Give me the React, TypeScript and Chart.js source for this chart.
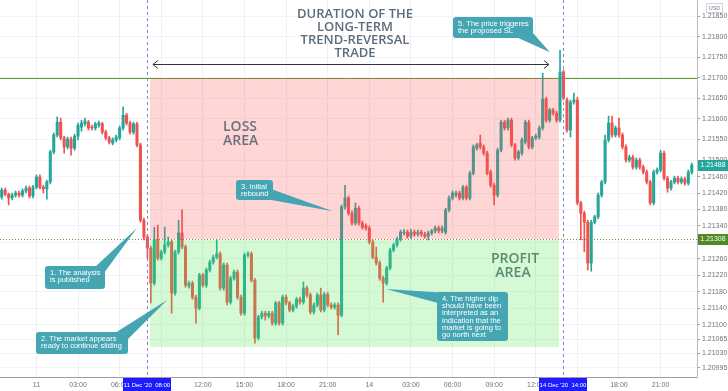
import React, { useEffect, useRef } from 'react';
import { Chart, registerables } from 'chart.js';

Chart.register(...registerables);

// ---------------- DATA (EUR/USD 15-minute candles, 10 Dec 21:30 -> 14 Dec 23:15) ----------------
const opens = [
  1.21410,1.21427,1.21417,1.21408,1.21415,1.21420,1.21415,1.21425,1.21432,1.21413,
  1.21434,1.21459,1.21434,1.21430,1.21447,1.21520,1.21561,1.21592,1.21554,1.21532,
  1.21551,1.21529,1.21558,1.21580,1.21588,1.21592,1.21580,1.21578,1.21585,1.21588,
  1.21568,1.21554,1.21541,1.21549,1.21554,1.21578,1.21609,1.21590,1.21568,1.21588,
  1.21537,1.21354,1.21313,1.21286,1.21201,1.21306,1.21262,1.21277,1.21294,1.21301,
  1.21177,1.21277,1.21323,1.21289,1.21194,1.21201,1.21167,1.21140,1.21221,1.21196,
  1.21233,1.21252,1.21264,1.21272,1.21189,1.21245,1.21155,1.21213,1.21228,1.21167,
  1.21128,1.21269,1.21272,1.21208,1.21068,1.21119,1.21128,1.21121,1.21128,1.21104,
  1.21153,1.21104,1.21167,1.21153,1.21136,1.21145,1.21162,1.21155,1.21189,1.21172,
  1.21131,1.21148,1.21172,1.21136,1.21174,1.21148,1.21143,1.21148,1.21123,1.21386,
  1.21408,1.21371,1.21347,1.21383,1.21347,1.21340,1.21335,1.21301,1.21264,1.21250,
  1.21213,1.21201,1.21238,1.21281,1.21294,1.21308,1.21323,1.21325,1.21315,1.21325,
  1.21320,1.21325,1.21320,1.21315,1.21323,1.21328,1.21335,1.21328,1.21325,1.21379,
  1.21408,1.21415,1.21420,1.21408,1.21434,1.21408,1.21468,1.21529,1.21541,1.21532,
  1.21517,1.21471,1.21439,1.21415,1.21524,1.21592,1.21578,1.21597,1.21537,1.21505,
  1.21517,1.21544,1.21592,1.21532,1.21554,1.21556,1.21578,1.21648,1.21597,1.21622,
  1.21614,1.21597,1.21714,1.21646,1.21573,1.21641,1.21646,1.21396,1.21371,1.21349,
  1.21250,1.21349,1.21362,1.21415,1.21447,1.21549,1.21590,1.21561,1.21578,1.21561,
  1.21532,1.21500,1.21507,1.21483,1.21500,1.21483,1.21471,1.21447,1.21396,1.21471,
  1.21476,1.21517,1.21456,1.21432,1.21447,1.21456,1.21447,1.21454,1.21444,1.21471,
];
const highs = [
  1.21432,1.21432,1.21420,1.21420,1.21425,1.21425,1.21430,1.21437,1.21437,1.21439,
  1.21464,1.21464,1.21439,1.21451,1.21524,1.21566,1.21605,1.21602,1.21558,1.21556,
  1.21556,1.21563,1.21590,1.21597,1.21602,1.21597,1.21585,1.21592,1.21595,1.21592,
  1.21573,1.21558,1.21554,1.21561,1.21583,1.21629,1.21614,1.21595,1.21592,1.21592,
  1.21541,1.21359,1.21318,1.21291,1.21337,1.21342,1.21281,1.21337,1.21313,1.21306,
  1.21281,1.21354,1.21379,1.21294,1.21206,1.21206,1.21172,1.21225,1.21225,1.21238,
  1.21257,1.21269,1.21306,1.21277,1.21250,1.21250,1.21218,1.21233,1.21233,1.21172,
  1.21274,1.21277,1.21277,1.21213,1.21123,1.21133,1.21133,1.21133,1.21133,1.21157,
  1.21157,1.21172,1.21172,1.21157,1.21150,1.21167,1.21167,1.21204,1.21194,1.21177,
  1.21153,1.21177,1.21189,1.21179,1.21179,1.21153,1.21153,1.21153,1.21391,1.21439,
  1.21413,1.21376,1.21396,1.21388,1.21352,1.21345,1.21340,1.21306,1.21289,1.21255,
  1.21218,1.21242,1.21286,1.21298,1.21313,1.21330,1.21332,1.21330,1.21332,1.21330,
  1.21330,1.21330,1.21325,1.21328,1.21332,1.21340,1.21340,1.21340,1.21383,1.21413,
  1.21425,1.21425,1.21425,1.21439,1.21439,1.21473,1.21537,1.21541,1.21561,1.21537,
  1.21522,1.21476,1.21444,1.21529,1.21597,1.21597,1.21602,1.21602,1.21541,1.21524,
  1.21554,1.21597,1.21597,1.21558,1.21563,1.21583,1.21711,1.21653,1.21626,1.21626,
  1.21619,1.21767,1.21719,1.21651,1.21646,1.21663,1.21653,1.21400,1.21376,1.21354,
  1.21354,1.21366,1.21420,1.21451,1.21561,1.21607,1.21607,1.21583,1.21602,1.21566,
  1.21537,1.21512,1.21512,1.21505,1.21505,1.21488,1.21476,1.21451,1.21476,1.21481,
  1.21524,1.21522,1.21461,1.21451,1.21461,1.21461,1.21459,1.21459,1.21476,1.21493,
];
const lows = [
  1.21405,1.21413,1.21391,1.21403,1.21410,1.21410,1.21410,1.21420,1.21408,1.21408,
  1.21430,1.21430,1.21420,1.21405,1.21442,1.21515,1.21556,1.21549,1.21517,1.21527,
  1.21512,1.21524,1.21549,1.21570,1.21583,1.21573,1.21573,1.21573,1.21580,1.21563,
  1.21549,1.21539,1.21537,1.21544,1.21549,1.21573,1.21585,1.21563,1.21563,1.21532,
  1.21349,1.21306,1.21262,1.21153,1.21196,1.21257,1.21257,1.21272,1.21289,1.21128,
  1.21172,1.21272,1.21284,1.21191,1.21189,1.21162,1.21104,1.21136,1.21191,1.21191,
  1.21228,1.21247,1.21260,1.21184,1.21184,1.21148,1.21150,1.21208,1.21162,1.21123,
  1.21123,1.21264,1.21204,1.21055,1.21063,1.21114,1.21111,1.21116,1.21099,1.21099,
  1.21099,1.21099,1.21148,1.21131,1.21131,1.21140,1.21150,1.21150,1.21167,1.21126,
  1.21126,1.21143,1.21131,1.21131,1.21143,1.21138,1.21138,1.21075,1.21119,1.21381,
  1.21366,1.21342,1.21342,1.21342,1.21332,1.21330,1.21296,1.21260,1.21245,1.21208,
  1.21155,1.21196,1.21233,1.21277,1.21289,1.21303,1.21318,1.21310,1.21310,1.21315,
  1.21315,1.21315,1.21310,1.21306,1.21318,1.21323,1.21323,1.21323,1.21320,1.21374,
  1.21403,1.21410,1.21403,1.21403,1.21403,1.21403,1.21464,1.21524,1.21527,1.21512,
  1.21464,1.21434,1.21391,1.21410,1.21520,1.21573,1.21573,1.21532,1.21500,1.21500,
  1.21512,1.21539,1.21527,1.21527,1.21549,1.21551,1.21573,1.21592,1.21592,1.21609,
  1.21592,1.21592,1.21646,1.21568,1.21556,1.21636,1.21391,1.21306,1.21277,1.21233,
  1.21230,1.21345,1.21357,1.21410,1.21442,1.21544,1.21556,1.21556,1.21556,1.21527,
  1.21495,1.21495,1.21478,1.21478,1.21478,1.21466,1.21442,1.21391,1.21391,1.21466,
  1.21471,1.21451,1.21422,1.21427,1.21442,1.21442,1.21442,1.21439,1.21439,1.21466,
];
const closes = [
  1.21427,1.21417,1.21408,1.21415,1.21420,1.21415,1.21425,1.21432,1.21413,1.21434,
  1.21459,1.21434,1.21430,1.21447,1.21520,1.21561,1.21592,1.21554,1.21532,1.21551,
  1.21529,1.21558,1.21585,1.21590,1.21595,1.21578,1.21578,1.21588,1.21590,1.21568,
  1.21554,1.21544,1.21549,1.21556,1.21578,1.21609,1.21590,1.21568,1.21588,1.21537,
  1.21354,1.21313,1.21286,1.21201,1.21306,1.21262,1.21277,1.21294,1.21301,1.21177,
  1.21277,1.21323,1.21289,1.21196,1.21201,1.21167,1.21140,1.21221,1.21196,1.21233,
  1.21252,1.21264,1.21272,1.21189,1.21245,1.21155,1.21213,1.21228,1.21167,1.21128,
  1.21269,1.21272,1.21208,1.21068,1.21119,1.21128,1.21121,1.21128,1.21104,1.21153,
  1.21104,1.21167,1.21153,1.21136,1.21145,1.21162,1.21155,1.21189,1.21172,1.21131,
  1.21148,1.21172,1.21136,1.21174,1.21148,1.21143,1.21148,1.21123,1.21386,1.21408,
  1.21371,1.21347,1.21383,1.21347,1.21337,1.21335,1.21301,1.21264,1.21250,1.21213,
  1.21201,1.21238,1.21281,1.21294,1.21308,1.21325,1.21325,1.21315,1.21325,1.21320,
  1.21325,1.21320,1.21315,1.21323,1.21328,1.21335,1.21328,1.21335,1.21379,1.21408,
  1.21420,1.21420,1.21408,1.21434,1.21408,1.21468,1.21532,1.21537,1.21532,1.21517,
  1.21468,1.21439,1.21415,1.21524,1.21592,1.21578,1.21597,1.21537,1.21505,1.21520,
  1.21549,1.21592,1.21532,1.21554,1.21558,1.21578,1.21648,1.21597,1.21622,1.21614,
  1.21597,1.21714,1.21651,1.21573,1.21641,1.21646,1.21396,1.21371,1.21349,1.21250,
  1.21349,1.21362,1.21415,1.21447,1.21549,1.21590,1.21561,1.21578,1.21561,1.21532,
  1.21500,1.21507,1.21483,1.21500,1.21483,1.21471,1.21447,1.21396,1.21471,1.21476,
  1.21517,1.21456,1.21432,1.21447,1.21456,1.21447,1.21454,1.21444,1.21471,1.21488,
];

const SLOT_COUNT = 201; // 15-minute slots shown on the time axis
const timeTickIndex = [10, 22, 34, 46, 58, 70, 82, 94, 106, 118, 130, 142, 154, 166, 178, 190];
const timeTickText = ['11', '03:00', '06:00', '09:00', '12:00', '15:00', '18:00', '21:00', '14', '03:00', '06:00', '09:00', '12:00', '15:00', '18:00', '21:00'];
const priceTicks = [
  1.20995, 1.21030, 1.21065, 1.21100, 1.21140, 1.21180, 1.21220, 1.21260, 1.21300, 1.21340, 1.21380,
  1.21420, 1.21460, 1.21500, 1.21550, 1.21600, 1.21650, 1.21700, 1.21750, 1.21800, 1.21850,
];
const PRICE_MIN = 1.20973;
const PRICE_MAX = 1.21889;

// trade levels and time markers
const stopLossLevel = 1.21700;
const entryLevel = 1.21308;
const takeProfitLevel = 1.21046;
const lastPrice = 1.21488;
const tradeStartIdx = 42.8;
const tradeEndIdx = 160.7;
const arrowLevel = 1.21733;
const arrowStartIdx = 43.6;
const arrowEndIdx = 157.8;
const markerIdx = [42, 162];
const markerText = ["11 Dec '20  08:00", "14 Dec '20  14:00"];

const titleLines = ['DURATION OF THE', 'LONG-TERM', 'TREND-REVERSAL', 'TRADE'];

const callouts = [
  { lines: ['1. The analysis', 'is published'], box: [45, 266, 60, 23], tipIdx: 39, tipPrice: 1.21335, base: [[95, 267], [104, 273]] },
  { lines: ['2. The market appears', 'ready to continue sliding'], box: [36, 332, 92, 22], tipIdx: 47.7, tipPrice: 1.21160, base: [[115, 333], [127, 340]] },
  { lines: ['3. Initial', 'rebound'], box: [236, 180, 37, 20], tipIdx: 95.5, tipPrice: 1.21376, base: [[271, 189], [266, 199]] },
  { lines: ['4. The higher dip', 'should have been', 'interpreted as an', 'indication that the', 'market is going to', 'go north next'], box: [437, 292, 71, 49], tipIdx: 110.8, tipPrice: 1.21187, base: [[448, 293], [438, 303]] },
  { lines: ['5. The price triggeres', 'the proposed SL'], box: [453, 17, 80, 21], tipIdx: 158.1, tipPrice: 1.21762, base: [[516, 37], [532, 32]] },
];

const UP = '#26a69a';
const DOWN = '#ef5350';
const CALLOUT = '#45a5b2';

const annotationPlugin = {
  id: 'tradeAnnotations',
  beforeDatasetsDraw(chart: any) {
    const { ctx, chartArea } = chart;
    const ys = chart.scales.y;
    ctx.save();
    const ySL = Math.round(ys.getPixelForValue(stopLossLevel)) + 0.5;
    ctx.strokeStyle = '#5e9a2c';
    ctx.lineWidth = 1;
    ctx.beginPath();
    ctx.moveTo(chartArea.left, ySL);
    ctx.lineTo(chartArea.right, ySL);
    ctx.stroke();
    const yE = Math.round(ys.getPixelForValue(entryLevel)) + 0.5;
    ctx.strokeStyle = '#7d8b3c';
    ctx.setLineDash([1, 2]);
    ctx.beginPath();
    ctx.moveTo(chartArea.left, yE);
    ctx.lineTo(chartArea.right, yE);
    ctx.stroke();
    ctx.restore();
  },
  afterDatasetsDraw(chart: any) {
    const { ctx, chartArea } = chart;
    const xs = chart.scales.x;
    const ys = chart.scales.y;
    const step = xs.getPixelForValue(1) - xs.getPixelForValue(0);
    const xAt = (i: number) => xs.getPixelForValue(0) + i * step;
    const yAt = (p: number) => ys.getPixelForValue(p);
    ctx.save();

    // loss / profit zones
    const zx0 = Math.round(xAt(tradeStartIdx));
    const zx1 = Math.round(xAt(tradeEndIdx));
    const ySL = Math.round(yAt(stopLossLevel));
    const yE = Math.round(yAt(entryLevel));
    const yTP = Math.round(yAt(takeProfitLevel));
    ctx.fillStyle = 'rgba(255, 82, 82, 0.24)';
    ctx.fillRect(zx0, ySL, zx1 - zx0, yE - ySL);
    ctx.fillStyle = 'rgba(80, 230, 80, 0.24)';
    ctx.fillRect(zx0, yE + 1, zx1 - zx0, yTP - yE - 1);

    // vertical dashed markers
    ctx.strokeStyle = '#8286c6';
    ctx.lineWidth = 1;
    ctx.setLineDash([3, 3]);
    markerIdx.forEach((k) => {
      const x = Math.round(xAt(k)) + 0.5;
      ctx.beginPath();
      ctx.moveTo(x, chartArea.top);
      ctx.lineTo(x, chartArea.bottom);
      ctx.stroke();
    });
    ctx.setLineDash([]);

    // duration arrow
    const ay = Math.round(yAt(arrowLevel)) + 0.5;
    const ax0 = xAt(arrowStartIdx);
    const ax1 = xAt(arrowEndIdx);
    ctx.strokeStyle = '#333';
    ctx.beginPath();
    ctx.moveTo(ax0, ay);
    ctx.lineTo(ax1, ay);
    ctx.moveTo(ax0 + 5, ay - 4);
    ctx.lineTo(ax0, ay);
    ctx.lineTo(ax0 + 5, ay + 4);
    ctx.moveTo(ax1 - 5, ay - 4);
    ctx.lineTo(ax1, ay);
    ctx.lineTo(ax1 - 5, ay + 4);
    ctx.stroke();

    // title
    ctx.fillStyle = '#5e6d7c';
    ctx.font = "600 13px 'Open Sans'";
    ctx.textAlign = 'center';
    ctx.textBaseline = 'middle';
    titleLines.forEach((t, i) => ctx.fillText(t, 355, 14 + i * 13));

    // zone labels
    ctx.font = "600 14px 'Open Sans'";
    ctx.fillStyle = '#6c717b';
    ctx.textAlign = 'left';
    ctx.fillText('LOSS', 223, 127);
    ctx.fillText('AREA', 223, 141);
    ctx.fillStyle = '#5b8a72';
    ctx.textAlign = 'center';
    ctx.fillText('PROFIT', 515, 259);
    ctx.fillText('AREA', 513, 273);

    // callouts
    callouts.forEach((c) => {
      const tx = xAt(c.tipIdx);
      const ty = yAt(c.tipPrice);
      ctx.fillStyle = CALLOUT;
      ctx.beginPath();
      ctx.moveTo(c.base[0][0], c.base[0][1]);
      ctx.lineTo(tx, ty);
      ctx.lineTo(c.base[1][0], c.base[1][1]);
      ctx.closePath();
      ctx.fill();
      const [bx, by, bw, bh] = c.box;
      ctx.beginPath();
      ctx.roundRect(bx, by, bw, bh, 3);
      ctx.fill();
      ctx.fillStyle = '#ffffff';
      ctx.font = "7.5px 'Liberation Sans'";
      ctx.textAlign = 'left';
      ctx.textBaseline = 'middle';
      c.lines.forEach((t, i) => ctx.fillText(t, bx + 5, by + 7 + i * 7.2));
    });
    ctx.restore();
  },
  afterDraw(chart: any) {
    const { ctx, chartArea } = chart;
    const xs = chart.scales.x;
    const ys = chart.scales.y;
    const step = xs.getPixelForValue(1) - xs.getPixelForValue(0);
    const xAt = (i: number) => xs.getPixelForValue(0) + i * step;
    ctx.save();
    ctx.textBaseline = 'middle';
    ctx.textAlign = 'center';
    // time marker boxes
    markerIdx.forEach((k, i) => {
      const cx = Math.round(xAt(k));
      ctx.fillStyle = '#1c1cff';
      ctx.fillRect(cx - 24, chartArea.bottom + 1, 48, 13);
      ctx.fillStyle = '#fff';
      ctx.font = "6px 'Liberation Sans'";
      ctx.fillText(markerText[i], cx, chartArea.bottom + 8);
    });
    // price boxes
    const px0 = chartArea.right + 1;
    const boxes = [
      { v: lastPrice, bg: '#26a69a', fg: '#fff' },
      { v: entryLevel, bg: '#4f8a25', fg: '#fff' },
    ];
    boxes.forEach((b) => {
      const y = Math.round(ys.getPixelForValue(b.v));
      ctx.fillStyle = b.bg;
      ctx.fillRect(px0, y - 5, 728 - px0, 11);
      ctx.fillStyle = b.fg;
      ctx.font = "7px 'Liberation Sans'";
      ctx.fillText(b.v.toFixed(5), px0 + 15, y + 0.5);
    });
    // currency tag
    ctx.fillStyle = '#fff';
    ctx.strokeStyle = '#d1d4dc';
    ctx.fillRect(706.5, 3.5, 16, 9);
    ctx.strokeRect(706.5, 3.5, 16, 9);
    ctx.fillStyle = '#787b86';
    ctx.font = "5.5px 'Liberation Sans'";
    ctx.fillText('USD', 714.5, 8.2);
    ctx.restore();
  },
};

export default function App() {
  const canvasRef = useRef<HTMLCanvasElement | null>(null);

  useEffect(() => {
    const canvas = canvasRef.current;
    if (!canvas) return;
    const labels = Array.from({ length: SLOT_COUNT }, (_, i) => String(i));
    const colors = closes.map((c, i) => (c >= opens[i] ? UP : DOWN));
    const chart = new Chart(canvas, {
      type: 'bar',
      data: {
        labels,
        datasets: [
          {
            label: 'wick',
            data: lows.map((l, i) => [l, highs[i]]) as any,
            backgroundColor: colors,
            barThickness: 1,
            grouped: false,
            order: 2,
          } as any,
          {
            label: 'body',
            data: opens.map((o, i) => [o, closes[i]]) as any,
            backgroundColor: colors,
            barThickness: 2.4,
            minBarLength: 1,
            grouped: false,
            order: 1,
          } as any,
        ],
      },
      options: {
        responsive: false,
        animation: false,
        devicePixelRatio: 1,
        events: [],
        layout: { padding: 0 },
        plugins: { legend: { display: false }, tooltip: { enabled: false } },
        scales: {
          x: {
            type: 'category',
            offset: true,
            grid: { offset: false, color: '#eef0f4', drawTicks: false },
            border: { color: '#9a9da6' },
            ticks: {
              autoSkip: false,
              maxRotation: 0,
              padding: 4,
              color: '#6f727d',
              font: { size: 7, family: "'Liberation Sans'" },
              callback: (_v: any, i: number) => {
                const j = timeTickIndex.indexOf(i);
                return j >= 0 ? timeTickText[j] : null;
              },
            },
            afterFit: (s: any) => {
              s.height = 14;
              s.paddingLeft = 0;
              s.paddingRight = 0;
            },
          },
          y: {
            position: 'right',
            min: PRICE_MIN,
            max: PRICE_MAX,
            grid: { color: '#f1f3f6', tickLength: 3, tickColor: '#9a9da6' },
            border: { color: '#b8bbc4' },
            afterBuildTicks: (s: any) => {
              s.ticks = priceTicks.map((v) => ({ value: v }));
            },
            ticks: {
              padding: 2,
              color: '#6f727d',
              font: { size: 7, family: "'Liberation Sans'" },
              callback: (v: any) => Number(v).toFixed(5),
            },
            afterFit: (s: any) => {
              s.width = 31;
              s.paddingTop = 0;
              s.paddingBottom = 0;
            },
          },
        },
      } as any,
      plugins: [annotationPlugin],
    });
    return () => chart.destroy();
  }, []);

  return (
    <div style={{ position: 'fixed', left: 0, top: 0, width: 728, height: 391, background: '#fff' }}>
      <canvas ref={canvasRef} width={728} height={391} style={{ width: 728, height: 391, display: 'block' }} />
    </div>
  );
}
